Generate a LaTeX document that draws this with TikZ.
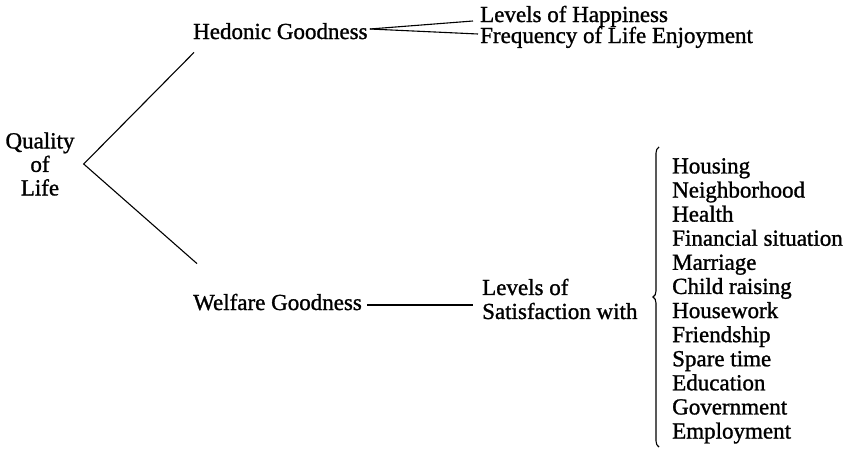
\documentclass[tikz,border=0pt]{standalone}
\usepackage{fontspec}
\setmainfont{Liberation Serif}[FakeBold=1.2]
\usetikzlibrary{decorations.pathreplacing}
\begin{document}
\begin{tikzpicture}[x=1pt,y=-1pt,
  lbl/.style={inner sep=0pt, font=\fontsize{23}{24}\selectfont},
  conn/.style={line width=1.1pt}]
\useasboundingbox (0,0) rectangle (845,450);
\node[lbl, align=center, font=\fontsize{23}{23.5}\selectfont] (qol) at (40,164) {Quality\\of\\Life};
\node[lbl, anchor=base west] (hed) at (193,39) {Hedonic Goodness};
\node[lbl, anchor=base west] (hap) at (480,22) {Levels of Happiness};
\node[lbl, anchor=base west] (enj) at (480,43) {Frequency of Life Enjoyment};
\node[lbl, anchor=base west] (wel) at (193,310) {Welfare Goodness};
\node[lbl, anchor=west, align=left] (sat) at (482,299) {Levels of\\Satisfaction with};
\node[lbl, anchor=north west, align=left, font=\fontsize{23}{24.1}\selectfont] (items) at (672,158)
  {Housing\\Neighborhood\\Health\\Financial situation\\Marriage\\Child raising\\Housework\\Friendship\\Spare time\\Education\\Government\\Employment};
% connectors
\coordinate (v) at ([xshift=9pt]qol.east);
\draw[conn] ([shift={(1,13)}]hed.south west) -- (v) -- ([shift={(4,-30)}]wel.north west);
\draw[conn] ([shift={(2,-10)}]hed.base east) -- ([shift={(-7,-1)}]hap.base west);
\draw[conn] ([shift={(2,-10)}]hed.base east) -- ([shift={(-2,-9)}]enj.base west);
\draw[conn] ([shift={(5,-5)}]wel.base east) -- ([shift={(-9,6)}]sat.west);
\draw[conn, decorate, decoration={brace, amplitude=6pt}] ([shift={(-13,289)}]items.north west) -- ([shift={(-13,-11)}]items.north west);
\end{tikzpicture}
\end{document}
